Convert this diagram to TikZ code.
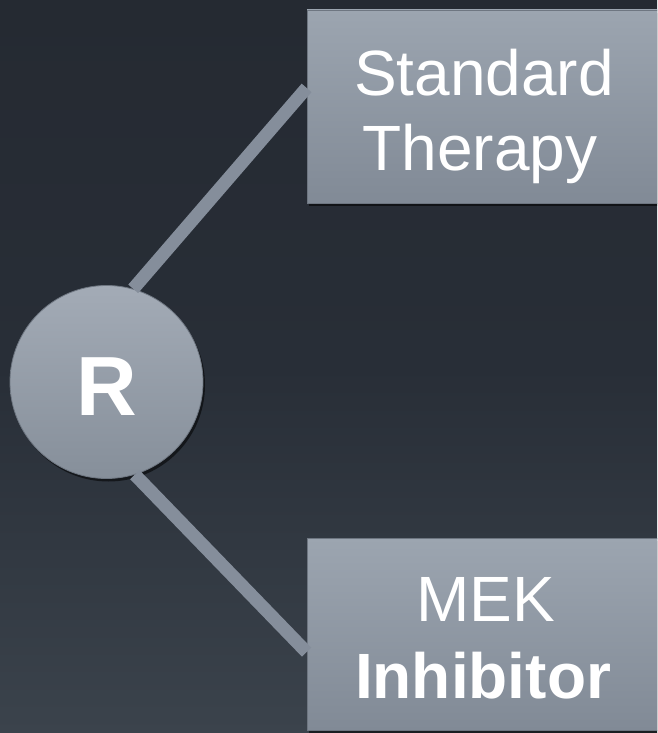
\documentclass[tikz,border=0pt]{standalone}
\usepackage{fontspec}
\setmainfont{Liberation Sans}
\usetikzlibrary{shadows,calc}
\definecolor{bgtop}{HTML}{252A32}
\definecolor{bgmid}{HTML}{282E37}
\definecolor{bgbot}{HTML}{3B434C}
\definecolor{boxtop}{HTML}{9CA5B0}
\definecolor{boxbot}{HTML}{818A96}
\definecolor{circtop}{HTML}{A3ABB6}
\definecolor{circbot}{HTML}{868F9A}
\definecolor{linkcol}{HTML}{858E9B}
\definecolor{rimcol}{HTML}{6E7681}
\tikzset{
  armbox/.style={rectangle, draw=rimcol, line width=0.8pt, top color=boxtop, bottom color=boxbot,
    minimum width=355pt, inner sep=0pt,
    drop shadow={shadow xshift=2pt, shadow yshift=-3pt, opacity=0.55, fill=black}},
  randcirc/.style={circle, draw=rimcol, line width=0.8pt, top color=circtop, bottom color=circbot,
    minimum size=193pt, inner sep=0pt,
    drop shadow={shadow xshift=2pt, shadow yshift=-3pt, opacity=0.55, fill=black}},
  armtext/.style={anchor=base, text=white, inner sep=0pt, font=\fontsize{64}{75}\selectfont},
  link/.style={draw=linkcol, line width=13pt, line cap=butt}
}
\begin{document}
\begin{tikzpicture}[x=1pt,y=-1pt]
\useasboundingbox (0,0) rectangle (657,733);
\clip (0,0) rectangle (657,733);
\shade[top color=bgtop, bottom color=bgbot, middle color=bgmid] (0,0) rectangle (657,733);
\node[armbox, minimum height=193pt] (st) at (484.5,106.5) {};
\node[armbox, minimum height=192pt] (mek) at (484.5,634) {};
\node[randcirc] (r) at (106.5,382) {};
\coordinate (stin) at ($(st.north west)!0.404!(st.south west)$);
\coordinate (mekin) at ($(mek.north west)!0.594!(mek.south west)$);
\draw[link] (r.74) -- (stin);
\draw[link] (r.-73) -- (mekin);
\node[anchor=base, text=white, inner sep=0pt, font=\fontsize{84}{90}\selectfont\bfseries] (rl) at (107,415) {R};
\node[armtext] (st1) at (484,95.5) {Standard};
\node[armtext] (st2) at (480,170) {Therapy};
\node[armtext] (mek1) at (486,621.5) {MEK};
\node[armtext, font=\fontsize{64}{75}\selectfont\bfseries] (mek2) at (483,698) {Inhibitor};
\end{tikzpicture}
\end{document}
